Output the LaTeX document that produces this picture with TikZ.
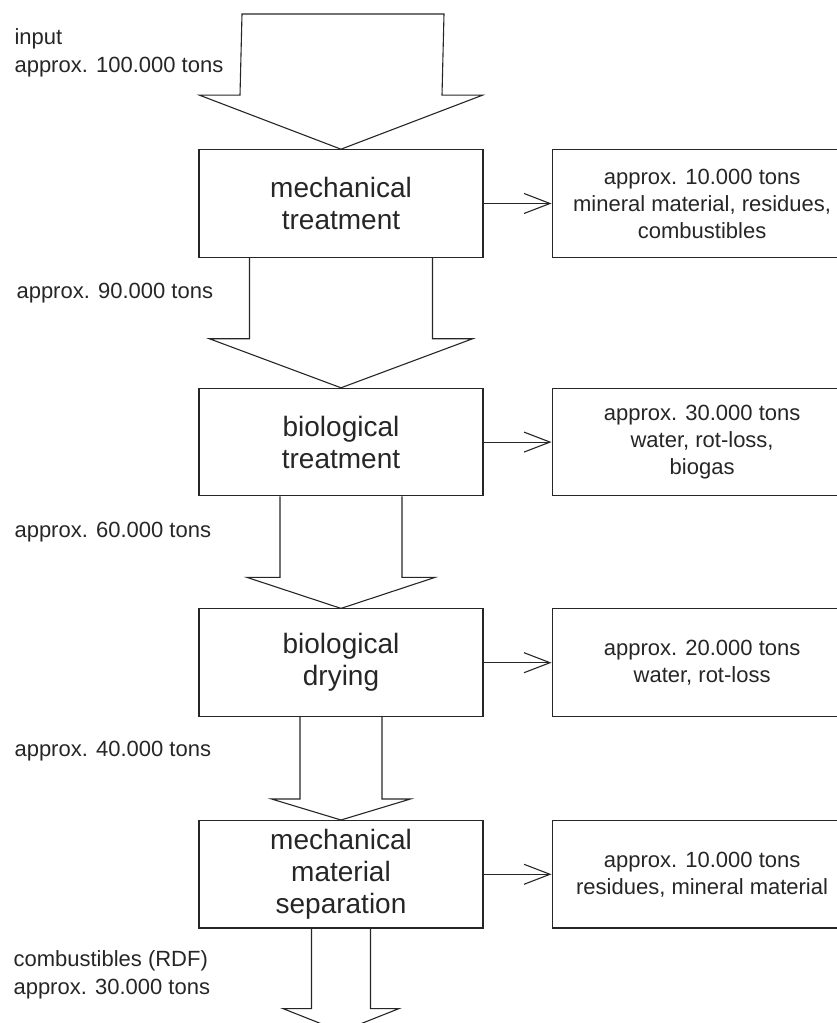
\documentclass[tikz,border=0pt]{standalone}
\usepackage{fontspec}
\setmainfont{Liberation Sans}
\usetikzlibrary{arrows.meta,positioning,calc}
\tikzset{
  stage/.style={draw, align=center, inner sep=0pt, minimum width=284pt,
                minimum height=107.5pt, font=\fontsize{28}{32}\selectfont},
  outbox/.style={draw, align=center, inner sep=0pt, minimum width=300pt,
                 minimum height=107.5pt, font=\fontsize{22}{27}\selectfont},
  fat/.style={draw, line width=1.1pt, line join=miter},
  flow/.style={-{Straight Barb[length=26pt,width=20pt]}, line width=1.1pt},
  lbl/.style={align=left, anchor=west, inner sep=0pt,
              font=\fontsize{22}{28}\selectfont},
}
% wide outline arrow: from, to, shaft half width, head half width, head length
\newcommand{\fatarrow}[5]{%
  \draw[fat] ($(#1)+(-#3,0)$) -- ($(#2)+(-#3,#5)$) -- ($(#2)+(-#4,#5)$)
    -- (#2) -- ($(#2)+(#4,#5)$) -- ($(#2)+(#3,#5)$) -- ($(#1)+(#3,0)$);}

\begin{document}
\begin{tikzpicture}[x=1pt, y=1pt, line width=1.1pt, color=black!85]
    \useasboundingbox (0,0) rectangle (837,1023);
    \clip (0,0) rectangle (837,1023);
    % process chain
    \node[stage] (mech) at (341,819.5) {mechanical\\treatment};
    \node[stage,below=130pt of mech] (bio) {biological\\treatment};
    \node[stage,below=112pt of bio] (dry) {biological\\drying};
    \node[stage,below=103pt of dry] (sep) {mechanical\\material\\separation};
    % outputs on the right
    \node[outbox,right=68pt of mech] (mechout)
      {approx. 10.000 tons\\mineral material, residues,\\combustibles};
    \node[outbox,right=68pt of bio] (bioout)
      {approx. 30.000 tons\\water, rot-loss,\\biogas};
    \node[outbox,right=68pt of dry] (dryout)
      {approx. 20.000 tons\\water, rot-loss};
    \node[outbox,right=68pt of sep] (sepout)
      {approx. 10.000 tons\\residues, mineral material};
    \draw[flow] (mech.east) -- (mechout.west);
    \draw[flow] (bio.east) -- (bioout.west);
    \draw[flow] (dry.east) -- (dryout.west);
    \draw[flow] (sep.east) -- (sepout.west);
    % mass flow arrows
    \coordinate (in) at (343,1009);
    \coordinate[below=103pt of sep.south] (rdf);
    \draw[fat] ($(in)+(-101,0)$) -- ($(mech.north)+(-101,54)$)
      -- ($(mech.north)+(-141.5,54)$) -- (mech.north)
      -- ($(mech.north)+(141.5,54)$) -- ($(mech.north)+(101,54)$)
      -- ($(in)+(101,0)$) -- cycle;
    \fatarrow{mech.south}{bio.north}{91.5}{131.5}{49}
    \fatarrow{bio.south}{dry.north}{61}{94}{31}
    \fatarrow{dry.south}{sep.north}{41}{69.5}{21}
    \fatarrow{sep.south}{rdf}{29.5}{58}{23}
    % quantities
    \node[lbl] (lin) at (14,970) {input\\approx. 100.000 tons};
    \node[lbl] (l90) at (16,730) {approx. 90.000 tons};
    \node[lbl] (l60) at (14,491) {approx. 60.000 tons};
    \node[lbl] (l40) at (14,272) {approx. 40.000 tons};
    \node[lbl] (l30) at (13,48) {combustibles (RDF)\\approx. 30.000 tons};
  \end{tikzpicture}
\end{document}
